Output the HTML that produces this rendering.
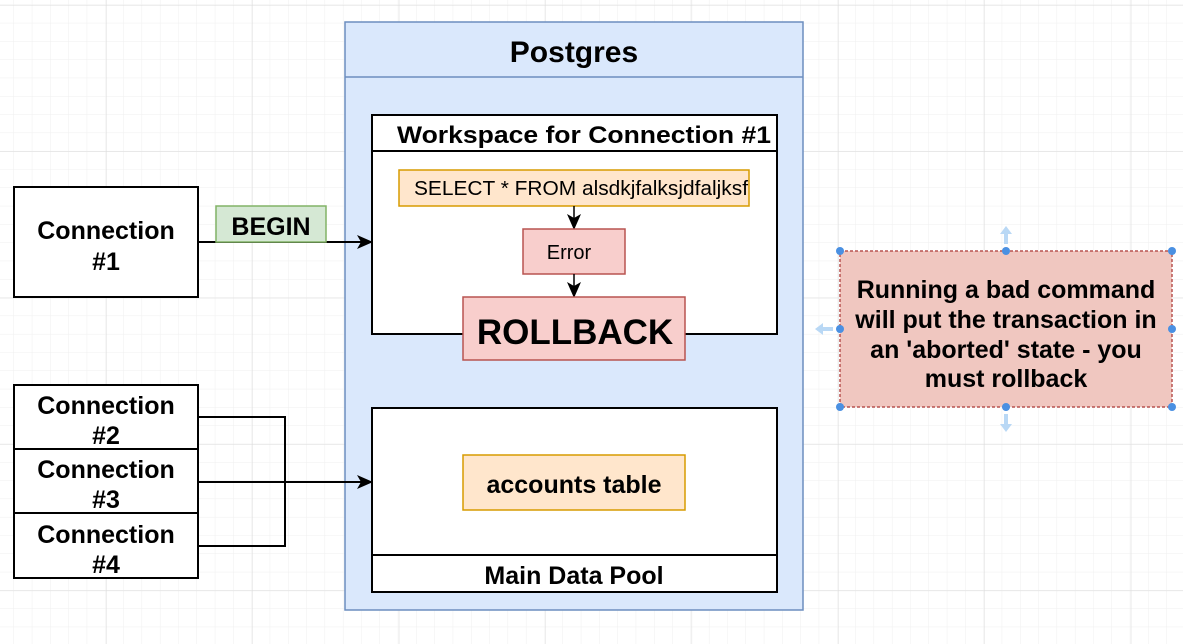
<!DOCTYPE html>
<html><head><style>
html,body{margin:0;padding:0;background:#fff}
svg{display:block}
text{font-family:"Liberation Sans",Arial,sans-serif;fill:#000}
</style></head><body>
<svg width="1183" height="644" viewBox="0 0 1183 644" xmlns="http://www.w3.org/2000/svg">
<defs>
<pattern id="g" width="18.3" height="18.3" patternUnits="userSpaceOnUse" x="14" y="5">
<path d="M18.3 0V18.3M0 18.3H18.3" stroke="#efefef" stroke-width="1" fill="none"/>
</pattern>
<pattern id="G" width="146.4" height="146.4" patternUnits="userSpaceOnUse" x="106" y="5">
<path d="M0 0V146.4M0 0H146.4" stroke="#dcdcdc" stroke-width="1" fill="none"/>
</pattern>
<marker id="a" markerWidth="16" markerHeight="16" refX="15" refY="8" orient="auto" markerUnits="userSpaceOnUse">
<path d="M0,1 L16,8 L0,15 L4,8 Z" fill="#000"/>
</marker>
</defs>
<rect width="1183" height="644" fill="url(#g)"/>
<rect width="1183" height="644" fill="url(#G)"/>

<rect x="345" y="22" width="458" height="588" fill="#dae8fc" stroke="#6c8ebf" stroke-width="1.5"/>
<line x1="345" y1="77" x2="803" y2="77" stroke="#6c8ebf" stroke-width="1.5"/>
<text x="574" y="62" font-size="30" font-weight="bold" text-anchor="middle">Postgres</text>

<rect x="372" y="115" width="405" height="219" fill="#fff" stroke="#000" stroke-width="2"/>
<line x1="372" y1="151" x2="777" y2="151" stroke="#000" stroke-width="2"/>
<text x="584" y="143" font-size="24" font-weight="bold" text-anchor="middle" textLength="374" lengthAdjust="spacingAndGlyphs">Workspace for Connection #1</text>
<rect x="399" y="170" width="350" height="36" fill="#ffe6cc" stroke="#d79b00" stroke-width="1.5"/>
<text x="581" y="195" font-size="20" text-anchor="middle" textLength="334" lengthAdjust="spacingAndGlyphs">SELECT * FROM alsdkjfalksjdfaljksf</text>
<line x1="574" y1="206" x2="574" y2="229" stroke="#000" stroke-width="1.5" marker-end="url(#a)"/>
<rect x="523" y="229" width="102" height="45" fill="#f8cecc" stroke="#b85450" stroke-width="1.5"/>
<text x="569" y="259" font-size="20" text-anchor="middle">Error</text>
<line x1="574" y1="274" x2="574" y2="297" stroke="#000" stroke-width="1.5" marker-end="url(#a)"/>
<rect x="463" y="297" width="222" height="63" fill="#f8cecc" stroke="#b85450" stroke-width="1.5"/>
<text x="575" y="344" font-size="35" font-weight="bold" text-anchor="middle">ROLLBACK</text>

<rect x="372" y="408" width="405" height="184" fill="#fff" stroke="#000" stroke-width="2"/>
<line x1="372" y1="555" x2="777" y2="555" stroke="#000" stroke-width="2"/>
<text x="574" y="584" font-size="25" font-weight="bold" text-anchor="middle">Main Data Pool</text>
<rect x="463" y="455" width="222" height="55" fill="#ffe6cc" stroke="#d79b00" stroke-width="1.5"/>
<text x="574" y="493" font-size="25" font-weight="bold" text-anchor="middle">accounts table</text>

<rect x="14" y="187" width="184" height="110" fill="#fff" stroke="#000" stroke-width="2"/>
<text x="106" y="239" font-size="25" font-weight="bold" text-anchor="middle">Connection</text>
<text x="106" y="270" font-size="25" font-weight="bold" text-anchor="middle">#1</text>
<line x1="198" y1="242" x2="372" y2="242" stroke="#000" stroke-width="2" marker-end="url(#a)"/>
<rect x="216" y="206" width="110" height="36" fill="#d5e8d4" stroke="#82b366" stroke-width="1.5"/>
<text x="271" y="235" font-size="25" font-weight="bold" text-anchor="middle">BEGIN</text>

<rect x="14" y="385" width="184" height="64" fill="#fff" stroke="#000" stroke-width="2"/>
<rect x="14" y="449" width="184" height="64" fill="#fff" stroke="#000" stroke-width="2"/>
<rect x="14" y="513" width="184" height="65" fill="#fff" stroke="#000" stroke-width="2"/>
<g font-size="25" font-weight="bold" text-anchor="middle">
<text x="106" y="414">Connection</text><text x="106" y="444">#2</text>
<text x="106" y="478">Connection</text><text x="106" y="508">#3</text>
<text x="106" y="543">Connection</text><text x="106" y="573">#4</text>
</g>
<polyline points="198,417 285,417 285,546 198,546" fill="none" stroke="#000" stroke-width="2"/>
<line x1="198" y1="482" x2="372" y2="482" stroke="#000" stroke-width="2" marker-end="url(#a)"/>

<rect x="840" y="251" width="332" height="156" fill="#f0c7c0" stroke="#b85450" stroke-width="1.5" stroke-dasharray="3 2"/>
<g font-size="25" font-weight="bold" text-anchor="middle">
<text x="1006" y="298">Running a bad command</text>
<text x="1006" y="328">will put the transaction in</text>
<text x="1006" y="358">an 'aborted' state - you</text>
<text x="1006" y="387">must rollback</text>
</g>
<g fill="#4a90e2">
<circle cx="840" cy="251" r="4"/><circle cx="1006" cy="251" r="4"/><circle cx="1172" cy="251" r="4"/>
<circle cx="840" cy="329" r="4"/><circle cx="1172" cy="329" r="4"/>
<circle cx="840" cy="407" r="4"/><circle cx="1006" cy="407" r="4"/><circle cx="1172" cy="407" r="4"/>
</g>
<g fill="#b9d8f5">
<path d="M1006,226 l-6,8 h4 v10 h4 v-10 h4 z"/>
<path d="M1006,432 l-6,-8 h4 v-10 h4 v10 h4 z"/>
<path d="M815,329 l8,-6 v4 h10 v4 h-10 v4 z"/>
</g>
</svg>
</body></html>
